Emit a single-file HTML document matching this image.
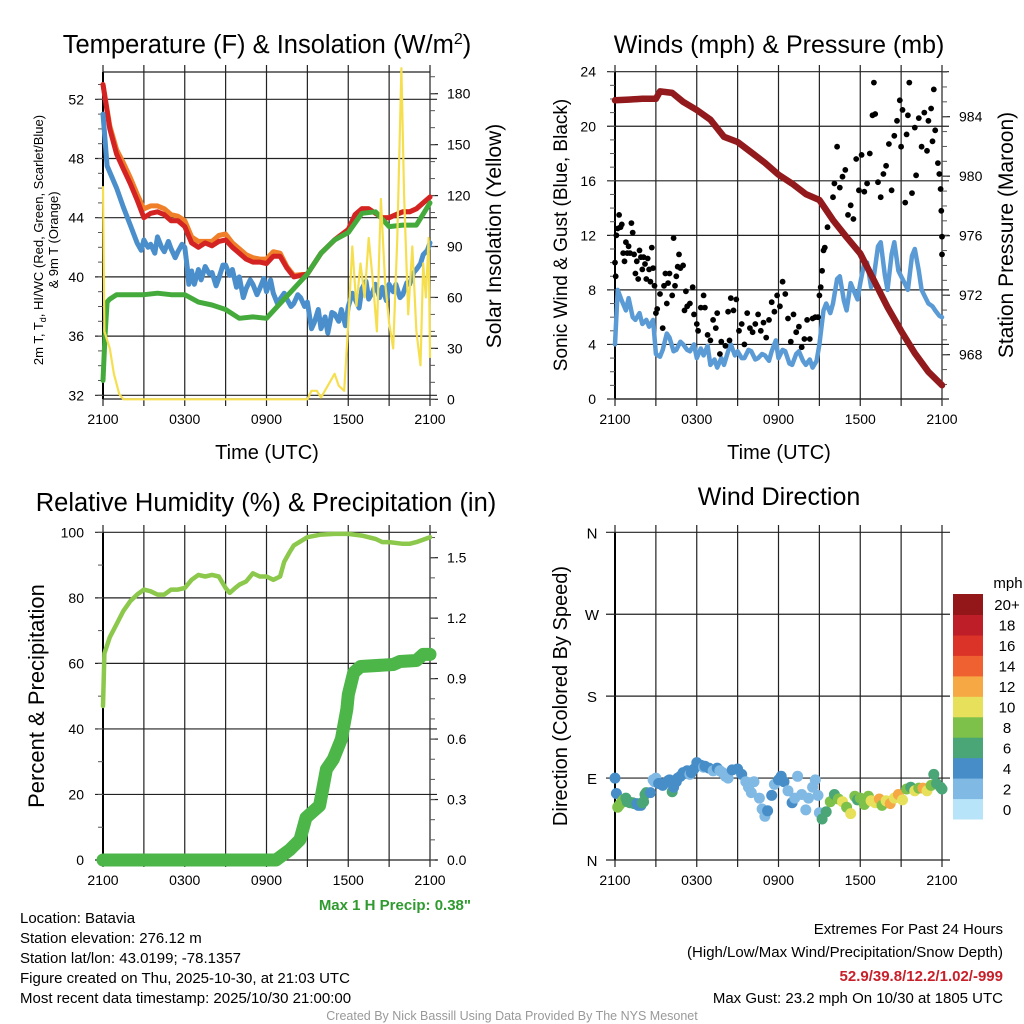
<!DOCTYPE html>
<html><head><meta charset="utf-8">
<style>
html,body{margin:0;padding:0;background:#fff;}
svg{display:block;font-family:"Liberation Sans",Arial,sans-serif;}
</style></head>
<body>
<svg id="chart" width="1024" height="1024" viewBox="0 0 1024 1024" xmlns="http://www.w3.org/2000/svg">
<g id="static">
<text x="267" y="53" font-size="25.5" text-anchor="middle">Temperature (F) &amp; Insolation (W/m<tspan dy="-9" font-size="16">2</tspan><tspan dy="9">)</tspan></text>
<text x="779" y="53" font-size="25" text-anchor="middle">Winds (mph) &amp; Pressure (mb)</text>
<text x="266" y="511" font-size="25.5" text-anchor="middle">Relative Humidity (%) &amp; Precipitation (in)</text>
<text x="779" y="505" font-size="25" text-anchor="middle">Wind Direction</text>

<text x="267" y="459" font-size="20" text-anchor="middle">Time (UTC)</text>
<text x="779" y="459" font-size="20" text-anchor="middle">Time (UTC)</text>

<g transform="translate(43,240) rotate(-90)">
<text x="0" y="0" font-size="13" text-anchor="middle">2m T, T<tspan font-size="9" dy="3">d</tspan><tspan dy="-3">, HI/WC (Red, Green, Scarlet/Blue)</tspan></text>
<text x="0" y="15" font-size="13" text-anchor="middle">&amp; 9m T (Orange)</text>
</g>
<text transform="translate(501,236) rotate(-90)" font-size="21" text-anchor="middle">Solar Insolation (Yellow)</text>
<text transform="translate(567,235) rotate(-90)" font-size="19" text-anchor="middle">Sonic Wind &amp; Gust (Blue, Black)</text>
<text transform="translate(1013,235) rotate(-90)" font-size="21" text-anchor="middle">Station Pressure (Maroon)</text>
<text transform="translate(44,696) rotate(-90)" font-size="22" text-anchor="middle">Percent &amp; Precipitation</text>
<text transform="translate(567,696) rotate(-90)" font-size="20" text-anchor="middle">Direction (Colored By Speed)</text>

<text x="471" y="910" font-size="15" font-weight="bold" fill="#2f9a2f" text-anchor="end">Max 1 H Precip: 0.38"</text>
<g font-size="15">
<text x="20" y="923">Location: Batavia</text>
<text x="20" y="943">Station elevation: 276.12 m</text>
<text x="20" y="963">Station lat/lon: 43.0199; -78.1357</text>
<text x="20" y="983">Figure created on Thu, 2025-10-30, at 21:03 UTC</text>
<text x="20" y="1003">Most recent data timestamp: 2025/10/30 21:00:00</text>
</g>
<g font-size="15" text-anchor="end">
<text x="1003" y="934">Extremes For Past 24 Hours</text>
<text x="1003" y="957">(High/Low/Max Wind/Precipitation/Snow Depth)</text>
<text x="1003" y="981" font-weight="bold" fill="#c8202a">52.9/39.8/12.2/1.02/-999</text>
<text x="1003" y="1003">Max Gust: 23.2 mph On 10/30 at 1805 UTC</text>
</g>
<text x="512" y="1020" font-size="12.5" fill="#999" text-anchor="middle">Created By Nick Bassill Using Data Provided By The NYS Mesonet</text>
</g>
<g id="dyn"></g>
</svg>
<script>
// ---------- DATA ----------
const timeLabels = ["2100","0300","0900","1500","2100"];
const tempTicks = [32,36,40,44,48,52];
const solarTicks = [0,30,60,90,120,150,180];
const windTicks = [0,4,8,12,16,20,24];
const presTicks = [968,972,976,980,984];
const rhTicks = [0,20,40,60,80,100];
const precipTicks = [0.0,0.3,0.6,0.9,1.2,1.5];
const dirLabels = ["N","E","S","W","N"];
const speedBinLabels = ["0","2","4","6","8","10","12","14","16","18","20+"];

const tempT = [0,0.5,1,1.5,2,2.5,3,3.5,4,4.5,5,5.5,6,6.5,7,7.5,8,8.5,9,9.5,10,10.5,11,11.5,12,12.5,13,13.5,14,15,16,17,18,18.5,19,19.5,20,20.5,21,21.5,22,22.5,23,23.5,24];
const tempV = [53,50,48.3,47.3,46.3,45.2,44.0,44.3,44.4,44.2,43.8,43.8,43.4,42.3,42.0,42.3,42.1,42.4,42.5,42.0,41.6,41.2,41.0,41.0,40.9,41.4,41.4,40.6,40.0,40.2,41.6,42.5,43.2,44.2,44.6,44.6,44.3,44.0,44.0,44.2,44.4,44.4,44.6,45.0,45.4];
const temp9V = [53,50.2,48.6,47.7,46.7,45.6,44.6,44.8,44.8,44.6,44.2,44.1,43.8,42.7,42.4,42.4,42.4,42.8,42.9,42.3,41.9,41.5,41.3,41.2,41.2,41.7,41.6,40.7,40.1,40.2,41.6,42.5,43.2,44.2,44.6,44.6,44.3,44.0,44.0,44.2,44.4,44.4,44.6,45.0,45.4];
const dewT = [0,0.15,0.3,0.5,1,2,3,4,5,6,7,8,9,10,11,12,13,14,15,16,17,18,19,20,21,22,23,24];
const dewV = [33,36,38.3,38.5,38.8,38.8,38.8,38.9,38.8,38.8,38.3,38.1,37.8,37.2,37.3,37.2,38.2,39.2,40.2,41.6,42.5,43.0,44.3,44.4,43.4,43.5,43.5,45.0];
const chillT = [0,0.3,1,1.5,2,2.5,2.8,3,3.3,3.5,3.8,4,4.3,4.5,4.8,5,5.3,5.5,5.8,6,6.2,6.3,6.5,6.7,7,7.2,7.5,7.8,8,8.3,8.5,8.8,9,9.3,9.5,9.8,10,10.3,10.5,10.8,11,11.3,11.5,11.8,12,12.3,12.5,12.8,13,13.3,13.5,13.8,14,14.3,14.5,14.8,15,15.3,15.5,15.8,16,16.3,16.5,16.8,17,17.3,17.5,17.8,18,18.3,18.5,18.8,19,19.3,19.5,19.8,20,20.3,20.5,20.8,21,21.3,21.5,21.8,22,22.3,22.5,22.8,23,23.3,23.5,23.8,24];
const chillV = [51,47.5,46,44.7,43.5,42.3,41.8,42.5,42.0,42.2,41.6,42.7,42.0,41.7,42.4,41.9,41.3,41.7,42.2,42,40.5,39.5,40.4,39.5,40.5,39.8,40.7,40.2,40.3,39.4,39.9,40.8,40.8,40.1,40.5,39.3,40,38.6,39.2,39.8,39.5,38.8,39.2,39.9,39,39.8,38.9,38.2,38.5,38.9,38.5,38.0,38.2,38.8,38.6,38.0,38.3,36.5,36.9,37.8,36.5,37.3,36.2,37.6,37.5,37.0,37.8,36.7,38.0,38.9,38.5,37.9,39.2,39.7,38.5,39.0,39.5,38.6,39.3,38.4,39.5,39.0,39.5,38.6,38.8,39.6,39.5,40.3,40.5,40.9,41.5,41.8,42.3];
const solarT = [0,0.1,0.5,0.8,1.2,1.5,15,15.3,15.7,16.0,16.5,17.0,17.3,17.7,18,18.3,18.6,18.9,19.2,19.5,19.8,20.1,20.4,20.7,21.0,21.3,21.6,21.9,22.1,22.4,22.7,23.0,23.3,23.5,23.7,23.9,24];
const solarV = [125,40,30,15,3,0,0,5,5,1,8,15,8,5,45,90,55,80,60,95,70,40,118,70,45,30,95,195,120,50,90,40,20,80,60,95,25];

const presT = [0,1,2,3,3.3,4.2,5,6,7,8,9,10,11,12,13,14,15,16,17,18,19,20,21,22,23,24];
const presV = [985.1,985.15,985.2,985.2,985.7,985.6,985.0,984.45,983.8,982.65,982.3,981.6,980.9,980.1,979.5,978.8,978.4,977.05,975.9,974.8,973.0,971.2,969.6,968.1,966.85,965.95];
const windT = [0,0.2,0.5,0.8,1,1.3,1.5,1.8,2,2.3,2.5,2.8,3,3.3,3.5,3.8,4,4.3,4.5,4.8,5,5.3,5.5,5.8,6,6.3,6.5,6.8,7,7.3,7.5,7.8,8,8.3,8.5,8.8,9,9.3,9.5,9.8,10,10.3,10.5,10.8,11,11.3,11.5,11.8,12,12.3,12.5,12.8,13,13.3,13.5,13.8,14,14.3,14.5,14.8,15,15.3,15.5,15.8,16,16.3,16.5,16.8,17,17.3,17.5,17.8,18,18.3,18.5,18.8,19,19.3,19.5,19.8,20,20.3,20.5,20.8,21,21.3,21.5,21.8,22,22.3,22.5,22.8,23,23.3,23.5,23.8,24];
const windV = [4,8,7.2,6.5,7.4,6,5.8,6.3,5.5,5.8,5.3,5.8,3.3,3.1,3.6,4.8,4.5,3.5,3.6,4.2,4,3.6,3.5,4.0,3,3.7,3.2,3.9,2.5,2.9,2.3,3.0,2.5,3.5,4,3.2,3.5,3.0,3,3.6,3.5,2.9,3,3.3,3.2,2.8,3.5,4.3,3,3.6,3.5,2.6,2.5,3.3,3.5,2.8,2.5,2.9,2.3,2.8,4,6.5,7,6.3,7,8.8,9,7.2,6.5,8.5,8,7.3,8.5,10,10,8.2,9,11.2,11.5,9.1,8,10.6,11.5,9.4,9,8.4,8,10.5,11,9.4,8,7.4,7,6.8,6.5,6.1,6];
const gustT = [0,0.05,0.1,0.2,0.3,0.4,0.5,0.6,0.7,0.8,0.9,1,1.1,1.2,1.3,1.4,1.5,1.6,1.7,1.8,1.9,2,2.1,2.2,2.3,2.4,2.5,2.6,2.7,2.8,2.9,3,3.1,3.3,3.5,3.6,3.7,3.8,3.9,4.0,4.2,4.3,4.4,4.5,4.6,4.7,4.8,5,5.1,5.2,5.3,5.5,5.7,5.8,6,6.1,6.3,6.5,6.6,6.8,7,7.2,7.4,7.5,7.7,7.8,8.1,8.3,8.4,8.5,8.7,8.9,9.1,9.3,9.5,9.7,9.9,10.1,10.3,10.5,10.7,10.9,11.1,11.3,11.5,11.7,11.9,12.1,12.3,12.5,12.7,12.9,13.1,13.3,13.5,13.7,13.9,14.1,14.3,14.5,14.7,14.9,15,15.1,15.2,15.3,15.4,15.6,15.8,16,16.1,16.3,16.5,16.7,16.9,17.1,17.3,17.5,17.7,17.9,18.1,18.3,18.5,18.7,18.9,19.0,19.1,19.3,19.5,19.7,19.9,20.1,20.3,20.5,20.7,20.9,21.0,21.1,21.3,21.4,21.5,21.6,21.8,22.0,22.1,22.3,22.5,22.7,22.9,23.0,23.2,23.3,23.4,23.5,23.7,23.8,23.9,23.95,24,24];
const gustV = [10,9,12,12.5,13.5,12.6,12.8,10.7,10.1,11.5,10.7,11.2,10.7,12.9,12.2,10.6,9.2,10.1,8.8,10.9,10.4,9.5,10.4,9.9,8.8,10.3,9.5,8.6,11.1,9.6,8.3,6.3,6.6,7.7,5.2,8.3,9.2,7,8.5,9.2,7.6,11.8,8.3,9.0,9.7,10.6,9.6,9.8,6.5,7.9,6.8,7.0,8.2,6.2,5.5,5,6.7,7.6,6.7,4.7,4.3,5.8,5.2,6.3,3.3,4.2,3.9,6.4,4.3,7.4,6.5,7.3,5.0,5.5,4.0,6.3,5.2,4.9,5.5,6.2,5.0,5.6,4.5,5.8,7.1,6.4,7.6,6.8,8.6,7.7,5.9,4.2,6.2,4.9,5.3,3.8,4.4,5.8,4.4,5.9,6.0,6.0,7.6,8.2,9.4,10.9,11.1,12.6,13.4,14.8,15.8,18.5,15.5,16.3,16.8,13.5,14.2,13.2,17.6,15.3,17.9,15.2,15.8,18.0,20.8,23.2,20.9,15.9,14.8,16.5,17.1,18.7,15.3,19.3,20.4,21.9,18.5,21.2,14.4,19.4,20.8,23.2,15.1,19.9,16.4,20.6,18.5,21.0,18.2,20.4,21.3,18.9,22.7,19.7,17.3,16.5,15.4,13.8,10.6,11.9,9.4];

const rhT = [0,0.1,0.5,1,1.5,2,2.5,3,3.5,4,4.5,5,5.5,6,6.5,7,7.5,8,8.5,9,9.3,9.7,10,10.5,11,11.5,12,12.5,13,13.3,13.7,14,15,16,17,18,19,20,20.5,21,22,22.5,23,24];
const rhV = [47,63,68,72,76,79,81,82.5,82,81,81,82.5,82.5,83,85.5,87,86.5,87,86.5,83,81.5,83,84,85,87.5,86.5,86.5,85.5,86.5,91,94,96,98.5,99.3,99.5,99.5,99,98,97,97,96.5,96.5,97,98.5];
const precipT = [0,12.7,13.7,14.45,14.9,15.9,16.4,16.9,17.5,17.9,18.0,18.4,18.9,21.3,21.8,23.0,23.5,24];
const precipV = [0,0,0.05,0.1,0.21,0.27,0.45,0.5,0.6,0.75,0.82,0.93,0.96,0.97,0.985,0.99,1.02,1.02];

const dirT = [0,0.1,0.2,0.3,0.4,0.5,0.6,0.8,0.9,1,1.1,1.3,1.4,1.6,1.7,1.9,2,2.1,2.2,2.3,2.6,2.8,2.9,3,3.2,3.3,3.5,3.6,3.9,4.0,4.2,4.3,4.5,4.6,4.8,5.0,5.1,5.3,5.5,5.6,5.8,6.0,6.1,6.3,6.5,6.6,6.9,7.2,7.5,7.7,7.9,8.1,8.3,8.6,9,9.3,9.6,9.8,10,10.2,10.6,10.8,11,11.2,11.5,11.7,12,12.2,12.4,12.7,13,13.2,13.4,13.7,14,14.2,14.5,14.7,14.9,15,15.2,15.5,15.8,16.1,16.4,16.7,17,17.3,17.6,17.8,18,18.3,18.6,18.8,19.1,19.4,19.6,19.9,20.2,20.5,20.8,21.1,21.4,21.7,22,22.3,22.6,22.9,23.2,23.4,23.6,23.9,24];
const dirV = [90,73,58,60,62,64,66,68,64,64,63,63,62,62,60,60,63,64,72,74,74,88,86,90,84,84,82,84,87,88,75,80,86,90,92,96,95,98,94,96,100,107,104,104,102,103,101,98,101,98,96,92,90,99,100,94,86,80,74,86,68,56,48,54,71,83,88,92,86,76,63,68,92,72,55,68,80,88,71,52,45,53,64,72,67,64,58,51,70,66,68,61,70,65,63,67,60,65,62,68,72,66,78,80,76,79,79,76,82,94,84,80,78];
const dirSpeed = [4,4,8,8,8,8,8,7,6,6,6,6,6,5,5,4,6,6,6,6,5,3,3,3,4,4,4,4,4,4,6,4,4,4,4,4,4,4,3,4,4,4,4,4,3,4,4,3,4,3,3,3,3,4,4,4,3,3,3,3,2,2,2,4,4,3,4,4,4,3,4,3,3,3,3,3,3,3,3,3,6,6,8,6,9,10,8,10,8,6,8,9,8,10,10,12,9,10,12,10,12,10,8,6,10,8,12,10,8,6,6,6,6];
const speedColors = ["#b7e4f9","#7fb9e4","#478ec8","#4aa676","#7dc14a","#e7e05a","#f6a845","#ef6130","#dc3328","#bd1e27","#931618"];

// ---------- HELPERS ----------
const NS = "http://www.w3.org/2000/svg";
const root = document.getElementById("dyn");
function mk(tag, attrs, parent) {
  const e = document.createElementNS(NS, tag);
  for (const k in attrs) e.setAttribute(k, attrs[k]);
  (parent || root).appendChild(e);
  return e;
}
function lin(d0, d1, r0, r1) { return v => r0 + (v - d0) / (d1 - d0) * (r1 - r0); }

function frame(p, name) {
  const g = mk("g", {});
  
  
  for (let h = 0; h <= 24; h += 3) {
    const x = p.x(h);
    const l = mk("line", {x1:x, x2:x, y1:p.y0 - 7, y2:p.y1 + 7, stroke:"#222", "stroke-width":1.2}, g);
    
    
  }
  timeLabels.forEach((t, i) => {
    const tx = mk("text", {x:p.x(i * 6), y:p.y1 + 25, "font-size":14, "text-anchor":"middle"}, g);
    tx.textContent = t;
    
    
  });
  mk("line", {x1:p.x0, x2:p.x0, y1:p.y0, y2:p.y1, stroke:"#000", "stroke-width":2}, g);
  return g;
}
function hgrid(p, yv, labels, side, g, fmt) {
  labels.forEach(v => {
    const y = yv(v);
    if (side === "left") {
      const l = mk("line", {x1:p.x0 - 8, x2:p.x1 + 7, y1:y, y2:y, stroke:"#222", "stroke-width":1.2}, g);
      
      
      const t = mk("text", {x:p.x0 - 19, y:y + 5, "font-size":14, "text-anchor":"end"}, g);
      t.textContent = fmt ? fmt(v) : v;
      
      
    } else {
      const l = mk("line", {x1:p.x1, x2:p.x1 + 8, y1:y, y2:y, stroke:"#222", "stroke-width":1.2}, g);
      
      
      const t = mk("text", {x:p.x1 + 17, y:y + 5, "font-size":14}, g);
      t.textContent = fmt ? fmt(v) : v;
      
      
    }
  });
}
function minor(p, yv, from, to, step, side, g) {
  for (let v = from; v <= to + 1e-9; v += step) {
    const y = yv(v);
    if (y < p.y0 - 0.5 || y > p.y1 + 0.5) continue;
    const x = side === "left" ? p.x0 : p.x1;
    const d = side === "left" ? -5 : 5;
    mk("line", {x1:x, x2:x + d, y1:y, y2:y, stroke:"#555", "stroke-width":1}, g);
  }
}
function path(p, ts, vs, yv, color, w, name) {
  let d = "";
  ts.forEach((t, i) => { d += (i ? "L" : "M") + p.x(t).toFixed(1) + "," + yv(vs[i]).toFixed(1); });
  const e = mk("path", {d:d, fill:"none", stroke:color, "stroke-width":w, "stroke-linejoin":"round", "stroke-linecap":"round"});
  
  
  return e;
}

// ---------- PANEL 1: temperature ----------
const p1 = {x0:103, x1:430, y0:72, y1:399};
p1.x = lin(0, 24, p1.x0, p1.x1);
const yT = lin(32, 52, 395.3, 99.3);
const yS = lin(0, 180, 399.3, 93.7);
const g1 = frame(p1, "temperature-panel");
hgrid(p1, yT, tempTicks, "left", g1);
hgrid(p1, yS, solarTicks, "right", g1);
minor(p1, yT, 32, 53, 1, "left", g1);
minor(p1, yS, 0, 190, 10, "right", g1);
mk("line", {x1:p1.x0, x2:p1.x1, y1:p1.y0, y2:p1.y0, stroke:"#222", "stroke-width":1.2}, g1);
mk("line", {x1:p1.x0, x2:p1.x1, y1:p1.y1, y2:p1.y1, stroke:"#222", "stroke-width":1.2}, g1);
path(p1, tempT, temp9V, yT, "#f07f2a", 5, "orange-9m-temp-line");
path(p1, tempT, tempV, yT, "#d42323", 5, "red-2m-temp-line");
path(p1, chillT, chillV, yT, "#4a8fcb", 5, "blue-wind-chill-line");
path(p1, dewT, dewV, yT, "#45aa3c", 5, "green-dewpoint-line");
path(p1, solarT, solarV, yS, "#f6df4f", 2.2, "yellow-insolation-line");

// ---------- PANEL 2: winds ----------
const p2 = {x0:615, x1:942, y0:72, y1:399};
p2.x = lin(0, 24, p2.x0, p2.x1);
const yW = lin(0, 24, 399, 71.7);
const yP = lin(968, 984, 354.7, 116.7);
const g2 = frame(p2, "winds-panel");
hgrid(p2, yW, windTicks, "left", g2);
hgrid(p2, yP, presTicks, "right", g2);
minor(p2, yW, 0, 24, 1, "left", g2);
minor(p2, yP, 965, 987, 1, "right", g2);
mk("line", {x1:p2.x0, x2:p2.x1, y1:p2.y1, y2:p2.y1, stroke:"#222", "stroke-width":1.2}, g2);
path(p2, windT, windV, yW, "#5b9bd5", 4.5, "blue-sonic-wind-line");
gustT.forEach((t, i) => {
  const c = mk("circle", {cx:p2.x(t).toFixed(1), cy:yW(gustV[i]).toFixed(1), r:2.9, fill:"#000"});
  
  
});
path(p2, presT, presV, yP, "#921a1c", 6.5, "maroon-pressure-line");

// ---------- PANEL 3: humidity ----------
const p3 = {x0:103, x1:430, y0:532, y1:860};
p3.x = lin(0, 24, p3.x0, p3.x1);
const yR = lin(0, 100, 860, 532.3);
const yPr = lin(0, 1.5, 860, 557.7);
const g3 = frame(p3, "humidity-panel");
hgrid(p3, yR, rhTicks, "left", g3);
hgrid(p3, yPr, precipTicks, "right", g3, v => v.toFixed(1));
minor(p3, yR, 0, 100, 10, "left", g3);
minor(p3, yPr, 0, 1.6, 0.1, "right", g3);
path(p3, rhT, rhV, yR, "#8cc84b", 4.5, "rh-line");
path(p3, precipT, precipV, yPr, "#4cb648", 13, "precip-line");

// ---------- PANEL 4: wind direction ----------
const p4 = {x0:615, x1:942, y0:532, y1:860};
p4.x = lin(0, 24, p4.x0, p4.x1);
const yD = lin(0, 360, 860, 532.3);
const g4 = frame(p4, "wind-direction-panel");
dirLabels.forEach((lab, i) => {
  const y = yD(i * 90);
  const l = mk("line", {x1:p4.x0 - 9, x2:p4.x1 + 8, y1:y, y2:y, stroke:"#222", "stroke-width":1.2}, g4);
  
  
  const t = mk("text", {x:p4.x0 - 23, y:y + 6, "font-size":15, "text-anchor":"middle"}, g4);
  t.textContent = lab;
  
  
});
dirT.forEach((t, i) => {
  const bin = Math.min(10, Math.floor(dirSpeed[i] / 2));
  const c = mk("circle", {cx:p4.x(t).toFixed(1), cy:yD(dirV[i]).toFixed(1), r:5.5, fill:speedColors[bin]});
  
  
});
// colorbar
const cb = mk("g", {});


const cbTop = 594, cbBot = 819, cbH = (cbBot - cbTop) / speedColors.length;
speedColors.forEach((col, i) => {
  const y = cbBot - (i + 1) * cbH;
  const r = mk("rect", {x:953, y:y.toFixed(1), width:30, height:(cbH + 0.5).toFixed(1), fill:col}, cb);
  
  
  const t = mk("text", {x:1007, y:(y + cbH / 2 + 6).toFixed(1), "font-size":15, "text-anchor":"middle"}, cb);
  t.textContent = speedBinLabels[i];
  
  
});
const mph = mk("text", {x:1008, y:588, "font-size":15, "text-anchor":"middle"}, cb);
mph.textContent = "mph";


</script>
</body></html>
